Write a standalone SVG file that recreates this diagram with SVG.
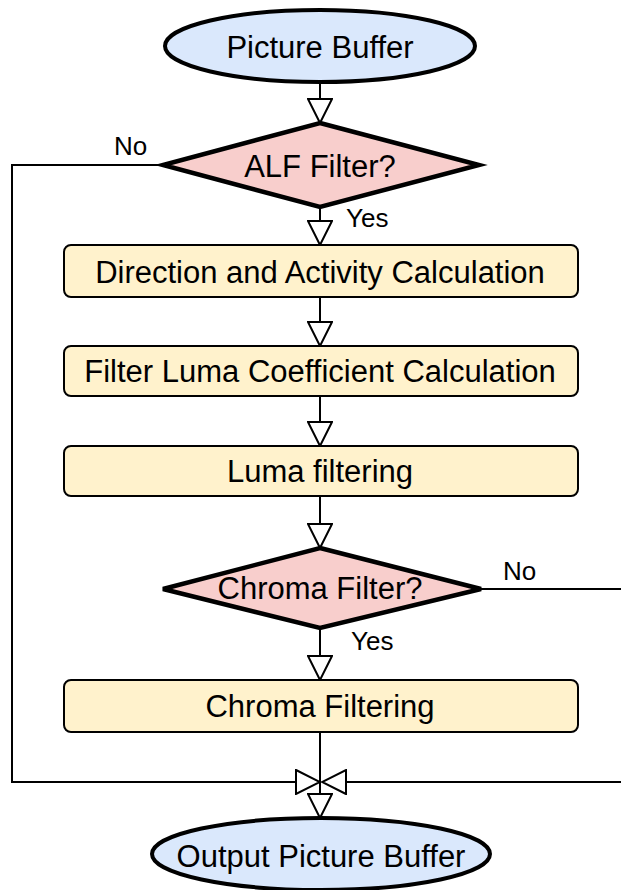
<svg xmlns="http://www.w3.org/2000/svg" width="621" height="890" viewBox="0 0 621 890">
  <defs>
    <style>
      text { font-family: "Liberation Sans", Arial, sans-serif; fill: #000; }
      .main { font-size: 31px; text-anchor: middle; }
      .lbl { font-size: 26px; }
      .term { fill: #dae8fc; stroke: #000; stroke-width: 4; }
      .dec { fill: #f8cecc; stroke: #000; stroke-width: 4.5; stroke-linejoin: miter; }
      .proc { fill: #fff2cc; stroke: #000; stroke-width: 2; }
      .edge { fill: none; stroke: #000; stroke-width: 2; marker-end: url(#open); }
    </style>
    <marker id="open" viewBox="0 0 26 26" refX="25" refY="13" markerWidth="26" markerHeight="26" markerUnits="userSpaceOnUse" orient="auto">
      <path d="M1,1 L25,13 L1,25 Z" fill="#fff" stroke="#000" stroke-width="2" stroke-linejoin="miter"/>
    </marker>
  </defs>

  <!-- connectors -->
  <g id="connectors">
    <path class="edge" d="M320,82 V123"/>
    <path class="edge" d="M320,207 V245"/>
    <path class="edge" d="M320,297 V346"/>
    <path class="edge" d="M320,396 V446"/>
    <path class="edge" d="M320,496 V548"/>
    <path class="edge" d="M320,628 V680"/>
    <path class="edge" d="M320,732 V818"/>
    <path class="edge" d="M163,165 H12 V782 H320"/>
    <path class="edge" d="M481,589 H624 V782 H322"/>
    <text class="lbl" x="114" y="155">No</text>
    <text class="lbl" x="346" y="227">Yes</text>
    <text class="lbl" x="503" y="580">No</text>
    <text class="lbl" x="351" y="650">Yes</text>
  </g>

  <g id="picture-buffer">
    <ellipse class="term" cx="320" cy="46" rx="155" ry="36"/>
    <text class="main" x="320" y="58">Picture Buffer</text>
  </g>

  <g id="alf-filter">
    <polygon class="dec" points="320,123 479,165 320,207 163,165"/>
    <text class="main" x="320" y="177">ALF Filter?</text>
  </g>

  <g id="direction-activity">
    <rect class="proc" x="64" y="245" width="514" height="52" rx="7"/>
    <text class="main" x="320" y="283">Direction and Activity Calculation</text>
  </g>

  <g id="luma-coeff">
    <rect class="proc" x="64" y="346" width="514" height="50" rx="7"/>
    <text class="main" x="320" y="382">Filter Luma Coefficient Calculation</text>
  </g>

  <g id="luma-filtering">
    <rect class="proc" x="64" y="446" width="514" height="50" rx="7"/>
    <text class="main" x="320" y="482">Luma filtering</text>
  </g>

  <g id="chroma-filter">
    <polygon class="dec" points="320,548 481,589 320,628 163,589"/>
    <text class="main" x="320" y="599">Chroma Filter?</text>
  </g>

  <g id="chroma-filtering">
    <rect class="proc" x="64" y="680" width="514" height="52" rx="7"/>
    <text class="main" x="320" y="717">Chroma Filtering</text>
  </g>

  <g id="output-buffer">
    <ellipse class="term" cx="321" cy="854" rx="169" ry="36"/>
    <text class="main" x="321" y="867">Output Picture Buffer</text>
  </g>
</svg>
